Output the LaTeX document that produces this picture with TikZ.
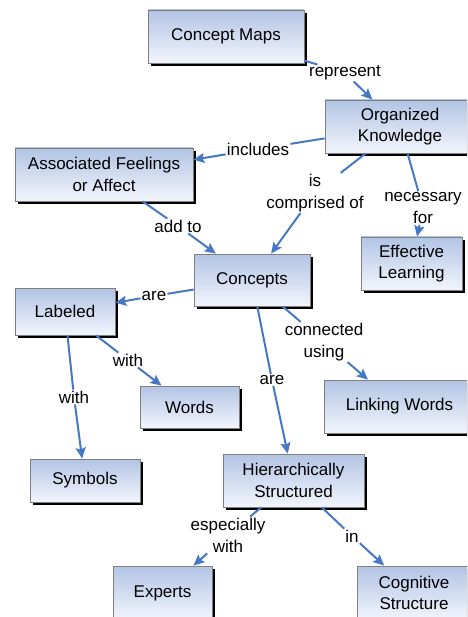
\documentclass[tikz,border=0pt]{standalone}
\usepackage{fontspec}
\setmainfont{Liberation Sans}
\usetikzlibrary{arrows.meta,shadows}
\definecolor{linkblue}{RGB}{70,120,196}
\definecolor{boxtop}{RGB}{178,196,229}
\definecolor{boxbot}{RGB}{242,245,252}
\begin{document}
\begin{tikzpicture}[x=1pt,y=-1pt,
	concept/.style={draw=gray,line width=0.8pt,top color=boxtop,bottom color=boxbot,
		drop shadow={shadow xshift=3pt,shadow yshift=-3pt,fill=black,opacity=1},
		align=center,inner sep=0pt,font=\fontsize{17}{21.5}\selectfont},
	linkw/.style={fill=white,inner sep=1pt,align=center,font=\fontsize{17}{22}\selectfont},
	link/.style={draw=linkblue,line width=2pt},
	>={Stealth[length=11pt,width=10pt,inset=2pt]}]
	\useasboundingbox (0,0) rectangle (467,617);
	\clip (0,0) rectangle (467,617);
	% concepts
	\node[concept,minimum width=156pt,minimum height=53pt] (cmaps) at (226,36.5) {Concept Maps};
	\node[concept,minimum width=150pt,minimum height=53pt] (orgk) at (400,126.5) {Organized\\Knowledge};
	\node[concept,minimum width=178pt,minimum height=53pt] (feel) at (104,174.5) {Associated Feelings\\or Affect};
	\node[concept,minimum width=101pt,minimum height=53pt] (eff) at (411.5,263.5) {Effective\\Learning};
	\node[concept,minimum width=116pt,minimum height=52pt] (conc) at (252,280) {Concepts};
	\node[concept,minimum width=100pt,minimum height=47pt] (lab) at (65,311.5) {Labeled};
	\node[concept,minimum width=99pt,minimum height=42pt] (words) at (189.5,407) {Words};
	\node[concept,minimum width=151pt,minimum height=53pt] (lnkw) at (399.5,406.5) {Linking Words};
	\node[concept,minimum width=110pt,minimum height=43pt] (sym) at (85,480.5) {Symbols};
	\node[concept,minimum width=141pt,minimum height=53pt] (hier) at (293.5,480.5) {Hierarchically\\Structured};
	\node[concept,minimum width=99pt,minimum height=54pt] (exp) at (162.5,593) {Experts};
	\node[concept,minimum width=114pt,minimum height=54pt] (cog) at (414,593) {Cognitive\\Structure};
	% linking phrases
	\node[linkw] (rep) at (345,73) {represent};
	\node[linkw] (incl) at (258,149) {includes};
	\node[linkw] (compr) at (315,193) {is\\comprised of};
	\node[linkw] (nec) at (423,208) {necessary\\for};
	\node[linkw] (add) at (178,226) {add to};
	\node[linkw] (are1) at (154,296) {are};
	\node[linkw] (conn) at (324,342) {connected\\using};
	\node[linkw] (are2) at (272,380) {are};
	\node[linkw] (with1) at (128,360) {with};
	\node[linkw] (with2) at (74,397) {with};
	\node[linkw] (esp) at (228,535) {especially\\with};
	\node[linkw] (in) at (352,536) {in};
	% connectors
	\draw[link] (cmaps) -- (rep);
	\draw[link,->] (rep) -- (orgk);
	\draw[link] (orgk) -- (incl);
	\draw[link,->] (incl) -- (feel);
	\draw[link] (orgk) -- (compr);
	\draw[link,->] (compr) -- (conc);
	\draw[link] (orgk) -- (nec);
	\draw[link,->] (nec) -- (eff);
	\draw[link] (feel) -- (add);
	\draw[link,->] (add) -- (conc);
	\draw[link] (conc) -- (are1);
	\draw[link,->] (are1) -- (lab);
	\draw[link] (conc) -- (conn);
	\draw[link,->] (conn) -- (lnkw);
	\draw[link] (conc) -- (are2);
	\draw[link,->] (are2) -- (hier);
	\draw[link] (lab) -- (with1);
	\draw[link,->] (with1) -- (words);
	\draw[link] (lab) -- (with2);
	\draw[link,->] (with2) -- (sym);
	\draw[link] (hier) -- (esp);
	\draw[link,->] (esp) -- (exp);
	\draw[link] (hier) -- (in);
	\draw[link,->] (in) -- (cog);
\end{tikzpicture}
\end{document}
